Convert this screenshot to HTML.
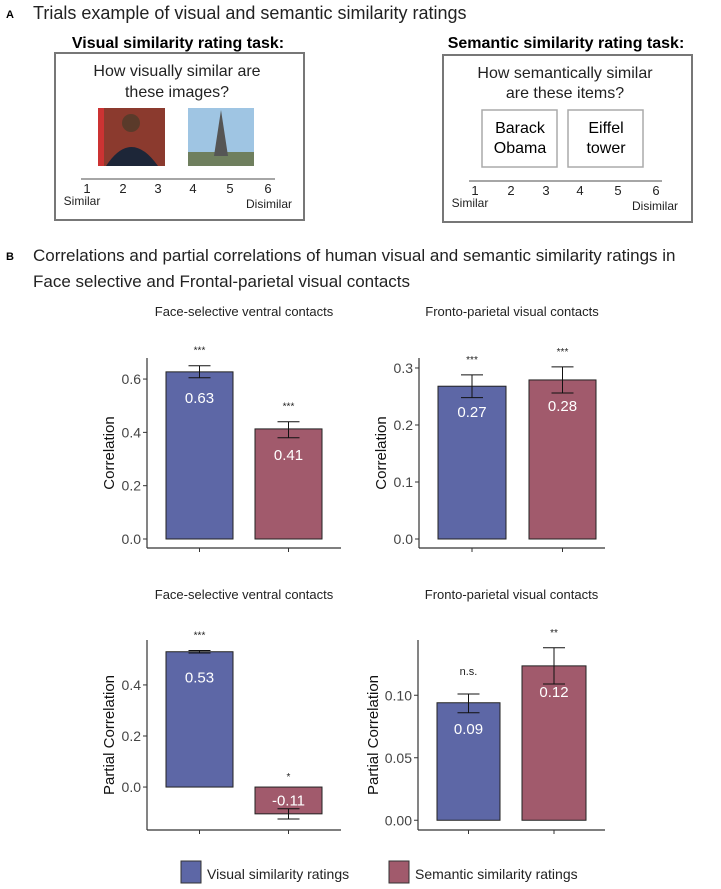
<!DOCTYPE html>
<html><head><meta charset="utf-8"><style>
body{margin:0;background:#fff;font-family:"Liberation Sans",sans-serif;}
svg text{font-family:"Liberation Sans",sans-serif;}
</style></head><body>
<svg id="fig" width="721" height="884" viewBox="0 0 721 884">
<!-- Panel A -->
<text x="6" y="18" font-size="11" font-weight="bold">A</text>
<text x="33" y="19" font-size="18" fill="#222">Trials example of visual and semantic similarity ratings</text>
<text x="178" y="48" font-size="16" font-weight="bold" text-anchor="middle">Visual similarity rating task:</text>
<rect x="55" y="53" width="249" height="167" fill="none" stroke="#777" stroke-width="2"/>
<text x="177" y="76" font-size="16" text-anchor="middle" fill="#222">How visually similar are</text>
<text x="177" y="97" font-size="16" text-anchor="middle" fill="#222">these images?</text>
<g><rect x="98" y="108" width="67" height="58" fill="#8b3a2e"/><circle cx="131" cy="123" r="9" fill="#5a3a2a"/><path d="M106 166 Q131 128 158 166Z" fill="#1d2638"/><rect x="98" y="108" width="6" height="58" fill="#c33"/></g>
<g><rect x="188" y="108" width="66" height="58" fill="#9fc5e3"/><rect x="188" y="152" width="66" height="14" fill="#6f7f5e"/><path d="M221 110 L214 156 L228 156Z" fill="#555"/></g>
<line x1="81" y1="179" x2="275" y2="179" stroke="#888" stroke-width="1.5"/>
<g font-size="13" fill="#222" text-anchor="middle"><text x="87" y="193">1</text><text x="123" y="193">2</text><text x="158" y="193">3</text><text x="193" y="193">4</text><text x="230" y="193">5</text><text x="268" y="193">6</text><text x="82" y="205" font-size="12">Similar</text><text x="269" y="208" font-size="12">Disimilar</text></g>

<text x="566" y="48" font-size="16" font-weight="bold" text-anchor="middle">Semantic similarity rating task:</text>
<rect x="443" y="55" width="249" height="167" fill="none" stroke="#777" stroke-width="2"/>
<text x="565" y="78" font-size="16" text-anchor="middle" fill="#222">How semantically similar</text>
<text x="565" y="98" font-size="16" text-anchor="middle" fill="#222">are these items?</text>
<rect x="482" y="110" width="75" height="57" fill="none" stroke="#aaa" stroke-width="1.5"/>
<text x="520" y="133" font-size="16" text-anchor="middle">Barack</text><text x="520" y="153" font-size="16" text-anchor="middle">Obama</text>
<rect x="568" y="110" width="75" height="57" fill="none" stroke="#aaa" stroke-width="1.5"/>
<text x="606" y="133" font-size="16" text-anchor="middle">Eiffel</text><text x="606" y="153" font-size="16" text-anchor="middle">tower</text>
<line x1="469" y1="181" x2="662" y2="181" stroke="#888" stroke-width="1.5"/>
<g font-size="13" fill="#222" text-anchor="middle"><text x="475" y="195">1</text><text x="511" y="195">2</text><text x="546" y="195">3</text><text x="580" y="195">4</text><text x="618" y="195">5</text><text x="656" y="195">6</text><text x="470" y="207" font-size="12">Similar</text><text x="655" y="210" font-size="12">Disimilar</text></g>

<!-- Panel B -->
<text x="6" y="260" font-size="11" font-weight="bold">B</text>
<text x="33" y="261" font-size="17" fill="#222">Correlations and partial correlations of human visual and semantic similarity ratings in</text>
<text x="33" y="287" font-size="17" fill="#222">Face selective and Frontal-parietal visual contacts</text>
<g id="charts"></g>
<!-- Legend -->
<rect x="181" y="861" width="20" height="22" fill="#5d67a6" stroke="#333"/>
<text x="207" y="879" font-size="14" fill="#222">Visual similarity ratings</text>
<rect x="389" y="861" width="20" height="22" fill="#a15a6c" stroke="#333"/>
<text x="415" y="879" font-size="14" fill="#222">Semantic similarity ratings</text>
</svg>
<script>
const chartTitles=["Face-selective ventral contacts","Fronto-parietal visual contacts","Face-selective ventral contacts","Fronto-parietal visual contacts"];
const yTitles=["Correlation","Correlation","Partial Correlation","Partial Correlation"];
const visualValues=[0.627,0.268,0.53,0.094];
const semanticValues=[0.413,0.279,-0.105,0.1235];
const visualErrLow=[0.605,0.248,0.525,0.086];
const visualErrHigh=[0.65,0.288,0.535,0.101];
const semanticErrLow=[0.38,0.256,-0.125,0.109];
const semanticErrHigh=[0.44,0.302,-0.085,0.138];
const visualLabels=["0.63","0.27","0.53","0.09"];
const semanticLabels=["0.41","0.28","-0.11","0.12"];
const visualSig=["***","***","***","n.s."];
const semanticSig=["***","***","*","**"];
const tickValues=[[0,0.2,0.4,0.6],[0,0.1,0.2,0.3],[0,0.2,0.4],[0,0.05,0.10]];
const tickLabels=[["0.0","0.2","0.4","0.6"],["0.0","0.1","0.2","0.3"],["0.0","0.2","0.4"],["0.00","0.05","0.10"]];
const yDomains=[[0,0.679],[0,0.3175],[-0.133,0.576],[-0.0006,0.1442]];

const layout=[
 {ax:147,top:358,bot:548,right:341,b1:[166,233],b2:[255,322],ty:316},
 {ax:419,top:358,bot:548,right:605,b1:[438,506],b2:[529,596],ty:316},
 {ax:147,top:640,bot:830,right:341,b1:[166,233],b2:[255,322],ty:599},
 {ax:418,top:640,bot:830,right:605,b1:[437,500],b2:[522,586],ty:599}];
const NS='http://www.w3.org/2000/svg';
const root=document.getElementById('charts');
function mk(tag,attrs,parent,txt){const e=document.createElementNS(NS,tag);for(const k in attrs)e.setAttribute(k,attrs[k]);if(txt!==undefined)e.textContent=txt;parent.appendChild(e);return e;}
layout.forEach((L,i)=>{
 const g=mk('g',{},root);
 
 
 const [d0,d1]=yDomains[i];
 const plotTop=L.top, plotBot=L.bot-9;
 const y=v=>plotBot-(v-d0)/(d1-d0)*(plotBot-plotTop);
 const t=mk('text',{x:(L.ax+L.right)/2,y:L.ty,'font-size':13,'text-anchor':'middle',fill:'#222'},g,chartTitles[i]);
 
 
 const yt=mk('text',{x:0,y:0,'font-size':15,'text-anchor':'middle',fill:'#111',transform:`translate(${L.ax-(i===3?40:33)},${(L.top+L.bot)/2}) rotate(-90)`},g,yTitles[i]);
 
 
 mk('line',{x1:L.ax,y1:L.top,x2:L.ax,y2:L.bot,stroke:'#333','stroke-width':1.2},g);
 mk('line',{x1:L.ax,y1:L.bot,x2:L.right,y2:L.bot,stroke:'#333','stroke-width':1.2},g);
 tickValues[i].forEach((v,j)=>{
  mk('line',{x1:L.ax-4,y1:y(v),x2:L.ax,y2:y(v),stroke:'#333'},g);
  const tl=mk('text',{x:L.ax-6,y:y(v)+5,'font-size':14,'text-anchor':'end',fill:'#444'},g,tickLabels[i][j]);
  
  
 });
 const series=[[visualValues,visualErrLow,visualErrHigh,visualLabels,visualSig,L.b1,'#5d67a6','visual'],[semanticValues,semanticErrLow,semanticErrHigh,semanticLabels,semanticSig,L.b2,'#a15a6c','semantic']];
 series.forEach(([vals,lo,hi,lab,sig,bx,col,nm])=>{
  const v=vals[i],y0=y(0),yv=y(v);
  const r=mk('rect',{x:bx[0],y:Math.min(y0,yv),width:bx[1]-bx[0],height:Math.abs(y0-yv),fill:col,stroke:'#222','stroke-width':1},g);
  
  
  const cx=(bx[0]+bx[1])/2;
  mk('line',{x1:cx,y1:L.bot,x2:cx,y2:L.bot+4,stroke:'#333'},g);
  const yl=y(lo[i]),yh=y(hi[i]);
  mk('line',{x1:cx,y1:yl,x2:cx,y2:yh,stroke:'#111'},g);
  mk('line',{x1:cx-11,y1:yl,x2:cx+11,y2:yl,stroke:'#111'},g);
  mk('line',{x1:cx-11,y1:yh,x2:cx+11,y2:yh,stroke:'#111'},g);
  const ly=v>=0?yv+31:(y0+yv)/2+5;
  const vl=mk('text',{x:cx,y:ly,'font-size':15,'text-anchor':'middle',fill:'#fff'},g,lab[i]);
  
  
  const sy=v>=0?Math.min(yh,yv)-14:y(0)-9;
  const sl=mk('text',{x:cx,y:sig[i]==='n.s.'?sy-5:sy+2,'font-size':sig[i]==='n.s.'?11:10,'text-anchor':'middle',fill:'#222'},g,sig[i]);
  
  
 });
});
</script>
</body></html>
